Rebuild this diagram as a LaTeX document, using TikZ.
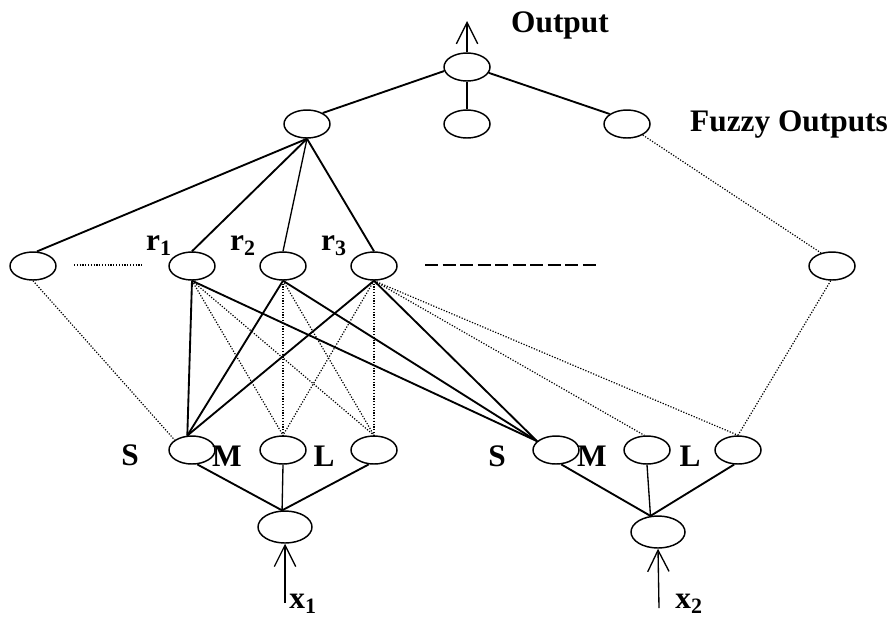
\documentclass[tikz,border=0pt]{standalone}
\usepackage{fontspec}
\setmainfont{Liberation Serif}
\usetikzlibrary{positioning,arrows.meta,shapes.geometric}

\begin{document}
\begin{tikzpicture}[x=0.75pt,y=-0.75pt,node distance=68.25pt,
                    font=\fontsize{23.5}{26}\selectfont\bfseries]
  \tikzstyle{unit}=[ellipse,draw=black,line width=1.1pt,inner sep=0pt,
                    minimum width=34.5pt,minimum height=21pt]
  \tikzstyle{inunit}=[unit,minimum width=40.5pt,minimum height=24pt]
  \tikzstyle{txt}=[inner sep=1pt]
  \tikzstyle{link}=[line width=1.4pt]
  \tikzstyle{thinlink}=[line width=1pt]
  \tikzstyle{dotlink}=[line width=0.9pt,dash pattern=on 0.9pt off 1.2pt]
  \tikzstyle{flow}=[-{Straight Barb[length=16pt,width=16pt]},line width=1pt]

  \useasboundingbox (0,0) rectangle (891,619);

  % output and fuzzy outputs
  \node[unit] (out) at (467,67) {};
  \node[unit] (f2) [below of=out,node distance=42.75pt] {};
  \node[unit] (f1) [left of=f2,node distance=120pt] {};
  \node[unit] (f3) [right of=f2,node distance=120pt] {};

  % rule layer
  \node[unit] (a0) at (33,266) {};
  \node[unit] (r1) at (192,266) {};
  \node[unit] (r2) [right of=r1] {};
  \node[unit] (r3) [right of=r2] {};
  \node[unit] (rn) at (832,266) {};

  % membership layer
  \node[unit] (s1) at (192,450) {};
  \node[unit] (m1) [right of=s1] {};
  \node[unit] (l1) [right of=m1] {};
  \node[unit] (s2) at (556,450) {};
  \node[unit] (m2) [right of=s2] {};
  \node[unit] (l2) [right of=m2] {};

  % inputs
  \node[inunit] (in1) at (285,527) {};
  \node[inunit] (in2) at (658,532) {};

  \coordinate (outend) at (467,21);
  \coordinate (x1start) at (285,603);
  \coordinate (x2start) at (659,608);
  \coordinate (dotA) at (74,265);
  \coordinate (dotB) at (142,265);
  \coordinate (dashA) at (425,265);
  \coordinate (dashB) at (600,265);

  % labels
  \node[txt] (outtxt) at (560,25) {Output};
  \node[txt] (fuzzytxt) at (789,125) {Fuzzy Outputs};
  \node[txt] (r1txt) at (159,246) {r\textsubscript{1}};
  \node[txt] (r2txt) at (243,246) {r\textsubscript{2}};
  \node[txt] (r3txt) at (334,246) {r\textsubscript{3}};
  \node[txt] (S1txt) at (130,455) {S};
  \node[txt] (M1txt) at (227,456) {M};
  \node[txt] (L1txt) at (324,456) {L};
  \node[txt] (S2txt) at (497,456) {S};
  \node[txt] (M2txt) at (592,456) {M};
  \node[txt] (L2txt) at (690,456) {L};
  \node[txt] (x1txt) at (303,604) {x\textsubscript{1}};
  \node[txt] (x2txt) at (689,604) {x\textsubscript{2}};

  % top part
  \draw[flow] (out) -- (outend);
  \draw[link] (out.190) -- (f1.35);
  \draw[thinlink] (out) -- (f2);
  \draw[link] (out.-15) -- (f3.150);

  \draw[link] (f1.south) -- (a0.75);
  \draw[link] (f1.south) -- (r1.north);
  \draw[thinlink] (f1.south) -- (r2.north);
  \draw[link] (f1.south) -- (r3.north);
  \draw[dotlink] (f3.-35) -- (rn.130);

  \draw[dotlink] (dotA) -- (dotB);
  \draw[line width=1.3pt,dash pattern=on 9.75pt off 3.4pt] (dashA) -- (dashB);

  % rules to membership functions
  \foreach \r in {r1,r2,r3} {
    \draw[link] (\r.south) -- (s1.108);
    \draw[link] (\r.south) -- (s2.155);
    \draw[dotlink] (\r.south) -- (m1.north);
    \draw[dotlink] (\r.south) -- (l1.north);
  }
  \draw[dotlink] (r3.south) -- (m2.100);
  \draw[dotlink] (r3.south) -- (l2.north);
  \draw[dotlink] (a0.south) -- (s1.150);
  \draw[dotlink] (rn.-95) -- (l2.north);

  % membership functions to inputs
  \draw[link] (s1.-70) -- (in1.100);
  \draw[thinlink] (m1.south) -- (in1.100);
  \draw[link] (l1.-110) -- (in1.100);
  \draw[link] (s2.-70) -- (in2.115);
  \draw[thinlink] (m2.south) -- (in2.115);
  \draw[link] (l2.-105) -- (in2.115);

  \draw[flow] (x1start) -- (in1.south);
  \draw[flow] (x2start) -- (in2.south);
\end{tikzpicture}
\end{document}
